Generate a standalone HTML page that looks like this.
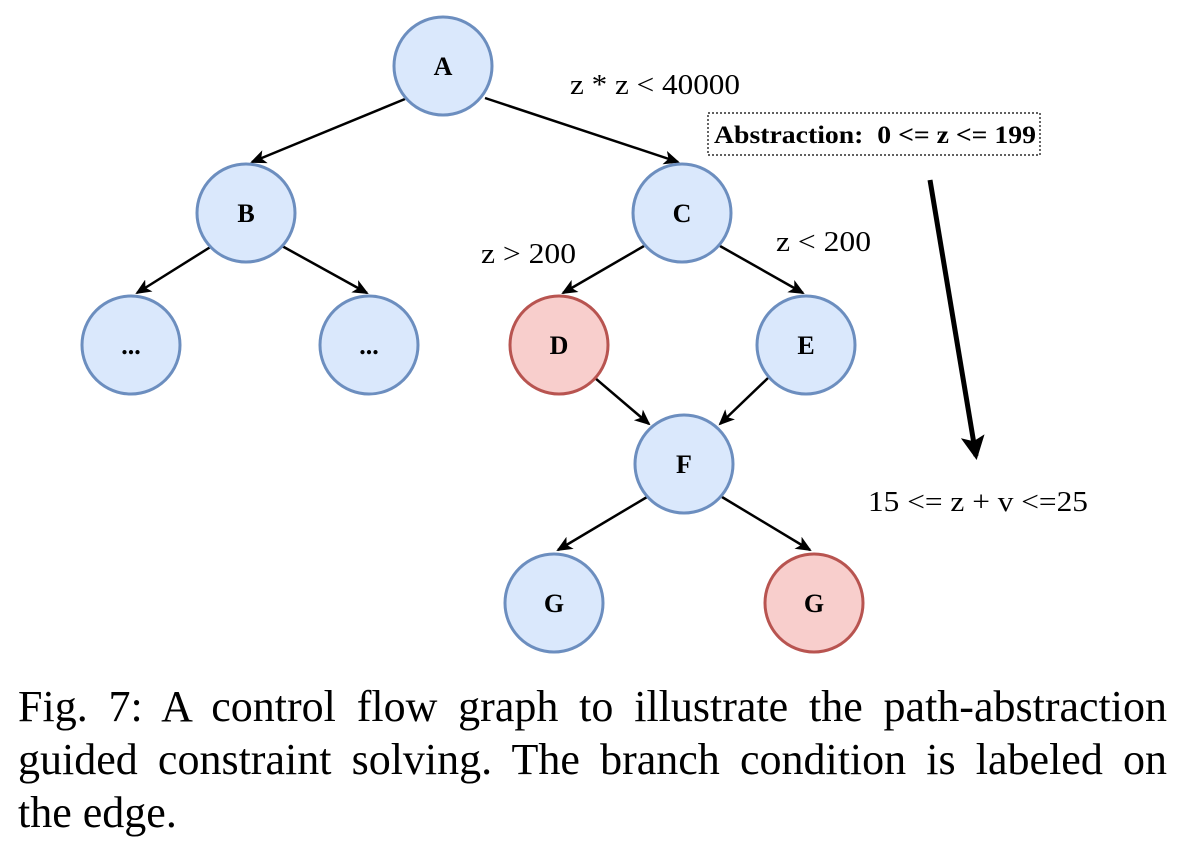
<!DOCTYPE html>
<html><head><meta charset="utf-8"><style>
html,body{margin:0;padding:0;background:#fff;}
svg{display:block;}
.cap{position:absolute;left:18px;width:1149px;font-family:"Liberation Serif",serif;font-size:44px;line-height:53px;text-align:justify;text-align-last:justify;color:#000;white-space:nowrap;}
</style></head><body>
<div style="position:relative;width:1184px;height:852px;overflow:hidden">
<svg width="1184" height="852" viewBox="0 0 1184 852" font-family="Liberation Serif, serif">
<defs><marker id="ah" markerWidth="16" markerHeight="14" refX="14" refY="7" orient="auto" markerUnits="userSpaceOnUse"><path d="M0,0 L16,7 L0,14 L4,7 z" fill="#000"/></marker>
<marker id="ah2" markerWidth="24" markerHeight="24" refX="20" refY="12" orient="auto" markerUnits="userSpaceOnUse"><path d="M0,0 L24,12 L0,24 L5,12 z" fill="#000"/></marker></defs>
<g stroke="#000" stroke-width="2.5" marker-end="url(#ah)">
<line x1="405" y1="99" x2="252" y2="162"/>
<line x1="485" y1="98" x2="678" y2="162"/>
<line x1="212" y1="246" x2="137" y2="293"/>
<line x1="282" y1="246" x2="367" y2="293"/>
<line x1="644" y1="246" x2="563" y2="293"/>
<line x1="720" y1="246" x2="803" y2="293"/>
<line x1="595" y1="378" x2="649" y2="424"/>
<line x1="768" y1="378" x2="720" y2="424"/>
<line x1="647" y1="497" x2="558" y2="550"/>
<line x1="722" y1="497" x2="810" y2="550"/>
</g>
<line x1="930" y1="180" x2="976" y2="456" stroke="#000" stroke-width="5" marker-end="url(#ah2)"/>
<g stroke-width="3" font-weight="bold" font-size="26" text-anchor="middle">
<g><circle cx="443" cy="66" r="49" fill="#dae8fc" stroke="#6c8ebf"/><text x="443" y="75">A</text></g>
<g><circle cx="246" cy="213" r="49" fill="#dae8fc" stroke="#6c8ebf"/><text x="246" y="222">B</text></g>
<g><circle cx="682" cy="213" r="49" fill="#dae8fc" stroke="#6c8ebf"/><text x="682" y="222">C</text></g>
<g><circle cx="131" cy="345" r="49" fill="#dae8fc" stroke="#6c8ebf"/><text x="131" y="354">...</text></g>
<g><circle cx="369" cy="345" r="49" fill="#dae8fc" stroke="#6c8ebf"/><text x="369" y="354">...</text></g>
<g><circle cx="559" cy="345" r="49" fill="#f8cecc" stroke="#b85450"/><text x="559" y="354">D</text></g>
<g><circle cx="806" cy="345" r="49" fill="#dae8fc" stroke="#6c8ebf"/><text x="806" y="354">E</text></g>
<g><circle cx="684" cy="464" r="49" fill="#dae8fc" stroke="#6c8ebf"/><text x="684" y="473">F</text></g>
<g><circle cx="554" cy="603" r="49" fill="#dae8fc" stroke="#6c8ebf"/><text x="554" y="612">G</text></g>
<g><circle cx="814" cy="603" r="49" fill="#f8cecc" stroke="#b85450"/><text x="814" y="612">G</text></g>
</g>
<g font-size="29" fill="#000">
<text x="570" y="94" textLength="170" lengthAdjust="spacingAndGlyphs">z * z &lt; 40000</text>
<text x="481" y="263" textLength="95" lengthAdjust="spacingAndGlyphs">z &gt; 200</text>
<text x="776" y="251" textLength="95" lengthAdjust="spacingAndGlyphs">z &lt; 200</text>
<text x="868" y="511" textLength="220" lengthAdjust="spacingAndGlyphs">15 &lt;= z + v &lt;=25</text>
</g>
<rect x="708" y="113" width="332" height="42" fill="none" stroke="#000" stroke-width="1.2" stroke-dasharray="2,2"/>
<text x="714" y="143" textLength="322" lengthAdjust="spacingAndGlyphs" font-size="25" font-weight="bold">Abstraction:&#160; 0 &lt;= z &lt;= 199</text>
</svg>
<div class="cap" style="top:680px">Fig. 7: A control flow graph to illustrate the path-abstraction</div>
<div class="cap" style="top:733px">guided constraint solving. The branch condition is labeled on</div>
<div class="cap" style="top:786px;text-align:left;text-align-last:left">the edge.</div>
</div>
</body></html>
